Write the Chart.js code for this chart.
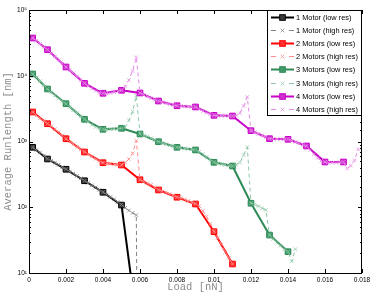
<!DOCTYPE html>
<html>
<head>
<meta charset="utf-8">
<script src="https://cdn.jsdelivr.net/npm/chart.js@4"></script>
<style>
  html, body { margin: 0; padding: 0; background: #fff; }
</style>
</head>
<body>
<canvas id="runlength" width="374" height="295"></canvas>
<script>
// load values (nN) for the coarse and fine sweeps
const lowLoad = [0.0002, 0.001, 0.002, 0.003, 0.004, 0.005, 0.006, 0.007, 0.008,
  0.009, 0.010, 0.011, 0.012, 0.013, 0.014, 0.015, 0.016, 0.017];
const highLoad = [
  0.0002, 0.0004, 0.0006, 0.0008, 0.0010, 0.0012, 0.0014, 0.0016, 0.0018, 0.0020,
  0.0022, 0.0024, 0.0026, 0.0028, 0.0030, 0.0032, 0.0034, 0.0036, 0.0038, 0.0040,
  0.0042, 0.0044, 0.0046, 0.0048, 0.0050, 0.0052, 0.0054, 0.0056, 0.0058, 0.0060,
  0.0062, 0.0064, 0.0066, 0.0068, 0.0070, 0.0072, 0.0074, 0.0076, 0.0078, 0.0080,
  0.0082, 0.0084, 0.0086, 0.0088, 0.0090, 0.0092, 0.0094, 0.0096, 0.0098, 0.0100,
  0.0102, 0.0104, 0.0106, 0.0108, 0.0110, 0.0112, 0.0114, 0.0116, 0.0118, 0.0120,
  0.0122, 0.0124, 0.0126, 0.0128, 0.0130, 0.0132, 0.0134, 0.0136, 0.0138, 0.0140,
  0.0142, 0.0144, 0.0146, 0.0148, 0.0150, 0.0152, 0.0154, 0.0156, 0.0158, 0.0160,
  0.0162, 0.0164, 0.0166, 0.0168, 0.0170, 0.0172, 0.0174, 0.0176, 0.0178];

const motorNames = ['1 Motor', '2 Motors', '3 Motors', '4 Motors'];

// average runlength (nm), coarse sweep
const low1 = [816, 542, 378, 253, 169, 108, 0.8];
const low2 = [2810, 1865, 1103, 692, 476, 439, 262, 183, 142, 112, 42.5, 13.7];
const low3 = [10640, 6290, 3760, 2175, 1532, 1587, 1300, 993, 816, 743, 482, 424,
  115, 37.8, 21.1];
const low4 = [37500, 24900, 13600, 7670, 5410, 6010, 5470, 4130, 3500, 3350, 2500,
  2440, 1460, 1104, 1080, 855, 488, 488];

// average runlength (nm), fine sweep
const high1 = [816, 740, 680, 610, 545, 510, 475, 445, 405, 380,
  350, 325, 300, 275, 255, 235, 215, 200, 183, 170,
  156, 143, 132, 120, 110, 98, 89, 82, 76, 0.000001];
const high2 = [2810, 2500, 2250, 2050, 1870, 1700, 1540, 1380, 1230, 1100,
  1000, 910, 830, 760, 695, 640, 590, 545, 505, 478,
  465, 455, 448, 442, 440, 480, 540, 660, 1030, 262,
  245, 232, 220, 200, 184, 176, 168, 160, 150, 143,
  138, 132, 125, 118, 113, 104, 88, 72, 56, 43,
  34, 27, 21, 17, 13.7];
const high3 = [10640, 9400, 8300, 7200, 6300, 5600, 5000, 4500, 4100, 3750,
  3350, 3000, 2700, 2420, 2180, 1980, 1800, 1660, 1570, 1530,
  1520, 1530, 1550, 1570, 1590, 1650, 2100, 2840, 4980, 1300,
  1240, 1190, 1120, 1050, 995, 950, 905, 870, 840, 815,
  800, 785, 770, 755, 745, 700, 640, 580, 525, 482,
  465, 450, 440, 430, 424, 440, 480, 620, 820, 115,
  110, 104, 97, 91, 38, 33, 29, 26, 23, 21.1,
  15, 23];
const high4 = [37500, 34000, 30500, 27500, 24900, 22000, 19500, 17300, 15300, 13600,
  12200, 10900, 9700, 8600, 7700, 7000, 6400, 5900, 5550, 5400,
  5380, 5450, 5600, 5800, 6000, 6900, 8600, 11800, 19100, 5470,
  5150, 4850, 4550, 4300, 4130, 3950, 3800, 3680, 3580, 3500,
  3470, 3430, 3400, 3370, 3350, 3100, 2900, 2720, 2600, 2500,
  2480, 2470, 2460, 2450, 2440, 2480, 2700, 3450, 4750, 1460,
  1380, 1300, 1230, 1160, 1104, 1100, 1095, 1090, 1085, 1080,
  1030, 980, 930, 890, 855, 740, 640, 560, 510, 488,
  480, 475, 478, 482, 488, 390, 430, 520, 760];

const xTickLabels = ['0', '0.002', '0.004', '0.006', '0.008', '0.01', '0.012',
  '0.014', '0.016', '0.018'];
const yTickLabels = ['10\u00b9', '10\u00b2', '10\u00b3', '10\u2074', '10\u2075'];

const lowSets = [low1, low2, low3, low4];
const highSets = [high1, high2, high3, high4];
const colours = ['#000000', '#ff0000', '#2e8b57', '#c800c8'];
const fills = ['#3a3a3a', '#ff3030', '#3f9c68', '#d030d0'];
const lightColours = ['#808080', '#ff8c8c', '#8ec6a6', '#e68ae6'];

function pts(xs, ys) {
  return ys.map((y, i) => ({ x: xs[i], y: y }));
}

const datasets = [];
motorNames.forEach((name, i) => {
  datasets.push({
    label: name + ' (low res)',
    data: pts(lowLoad, lowSets[i]),
    borderColor: colours[i],
    backgroundColor: fills[i],
    borderWidth: 2,
    pointStyle: 'rect',
    pointRadius: 4,
    pointBorderWidth: 1,
    pointBorderColor: colours[i],
    pointBackgroundColor: fills[i],
    hi: false
  });
  datasets.push({
    label: name + ' (high res)',
    data: pts(highLoad, highSets[i]),
    borderColor: lightColours[i],
    backgroundColor: lightColours[i],
    borderWidth: 1,
    borderDash: [4, 3],
    pointStyle: 'crossRot',
    pointRadius: 2.5,
    pointBorderWidth: 0.8,
    pointBorderColor: lightColours[i],
    hi: true
  });
});
// later series go on top, like the original plot
datasets.forEach((d, i) => { d.order = datasets.length - i; });

function isDecade(v) {
  const l = Math.log10(v);
  return Math.abs(l - Math.round(l)) < 1e-9;
}

// box, inward ticks and the legend
const frame = {
  id: 'frame',
  afterDraw(chart) {
    const ctx = chart.ctx;
    const a = chart.chartArea;
    const xs = chart.scales.x, ys = chart.scales.y;
    ctx.save();
    ctx.strokeStyle = '#000';
    ctx.lineWidth = 1;
    ctx.beginPath();
    xs.ticks.forEach(t => {
      const px = Math.round(xs.getPixelForValue(t.value)) + 0.5;
      ctx.moveTo(px, a.bottom); ctx.lineTo(px, a.bottom - 4);
      ctx.moveTo(px, a.top); ctx.lineTo(px, a.top + 4);
    });
    ys.ticks.forEach(t => {
      const len = isDecade(t.value) ? 4 : 2;
      const py = Math.round(ys.getPixelForValue(t.value)) + 0.5;
      ctx.moveTo(a.left, py); ctx.lineTo(a.left + len, py);
      ctx.moveTo(a.right, py); ctx.lineTo(a.right - len, py);
    });
    ctx.stroke();
    ctx.strokeRect(Math.round(a.left) + 0.5, Math.round(a.top) + 0.5,
      Math.round(a.right - a.left) - 1, Math.round(a.bottom - a.top));

    // legend
    const bx = 267.5, by = a.top + 0.5, bw = a.right - 0.5 - bx, bh = 105;
    ctx.fillStyle = '#fff';
    ctx.fillRect(bx, by, bw, bh);
    ctx.strokeRect(bx, by, bw, bh);
    ctx.font = '7.4px "Liberation Sans", Arial, sans-serif';
    ctx.textBaseline = 'middle';
    chart.data.datasets.forEach((d, i) => {
      const y = Math.round(by + 6.5 + i * 13.1) + 0.5;
      const mx = 282.5;
      ctx.strokeStyle = d.borderColor;
      if (d.hi) {
        ctx.lineWidth = 1;
        ctx.beginPath();
        ctx.moveTo(271, y); ctx.lineTo(276, y);
        ctx.moveTo(289, y); ctx.lineTo(294, y);
        ctx.stroke();
        ctx.lineWidth = 0.8;
        ctx.beginPath();
        ctx.moveTo(mx - 1.8, y - 1.8); ctx.lineTo(mx + 1.8, y + 1.8);
        ctx.moveTo(mx - 1.8, y + 1.8); ctx.lineTo(mx + 1.8, y - 1.8);
        ctx.stroke();
      } else {
        ctx.lineWidth = 2;
        ctx.beginPath();
        ctx.moveTo(271, y); ctx.lineTo(294, y);
        ctx.stroke();
        ctx.fillStyle = d.backgroundColor;
        ctx.lineWidth = 1;
        ctx.fillRect(mx - 2.8, y - 2.8, 5.6, 5.6);
        ctx.strokeRect(mx - 2.8, y - 2.8, 5.6, 5.6);
      }
      ctx.fillStyle = '#000';
      ctx.fillText(d.label, 296, y);
    });
    ctx.restore();
  }
};

const tickFont = { family: '"Liberation Sans", Arial, sans-serif', size: 6.5 };
const titleFont = { family: '"Liberation Mono", "Courier New", monospace', size: 10.5 };

new Chart(document.getElementById('runlength').getContext('2d'), {
  type: 'line',
  data: { datasets: datasets },
  options: {
    responsive: false,
    animation: false,
    events: [],
    layout: { padding: { top: 10, right: 12, left: 0, bottom: 0 } },
    plugins: { legend: { display: false }, tooltip: { enabled: false } },
    scales: {
      x: {
        type: 'linear',
        min: 0,
        max: 0.018,
        grid: { display: false, drawTicks: false },
        border: { display: false },
        ticks: {
          stepSize: 0.002,
          autoSkip: false,
          maxRotation: 0,
          padding: 3,
          color: '#000',
          font: tickFont,
          callback: (v, i) => xTickLabels[i]
        },
        title: {
          display: true,
          text: 'Load [nN]',
          color: '#8c8c8c',
          font: titleFont,
          padding: { top: 0, bottom: 1 }
        },
        afterFit: s => { s.height = 22; s.paddingLeft = 0; s.paddingRight = 0; }
      },
      y: {
        type: 'logarithmic',
        min: 10,
        max: 100000,
        grid: { display: false, drawTicks: false },
        border: { display: false },
        ticks: {
          autoSkip: false,
          padding: 2,
          color: '#000',
          font: tickFont,
          callback: v => isDecade(v) ? yTickLabels[Math.round(Math.log10(v)) - 1] : ''
        },
        title: {
          display: true,
          text: 'Average Runlength [nm]',
          color: '#8c8c8c',
          font: titleFont,
          padding: { top: 2, bottom: 0 }
        },
        afterFit: s => { s.width = 29; s.paddingTop = 0; s.paddingBottom = 0; }
      }
    }
  },
  plugins: [frame]
});
</script>
</body>
</html>
